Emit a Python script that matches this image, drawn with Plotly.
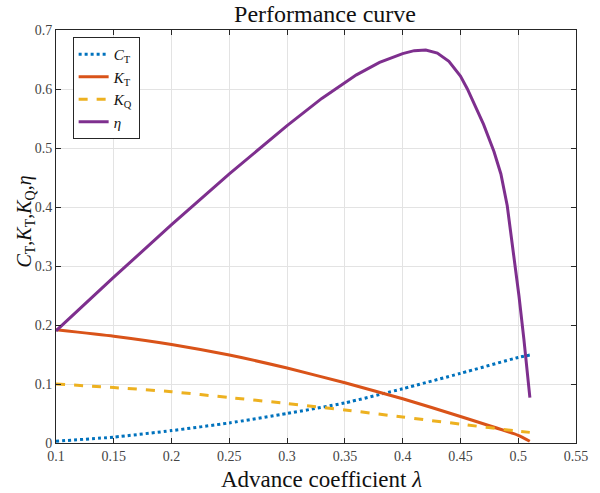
import plotly.graph_objects as go

# Data
lam = [0.1, 0.15, 0.2, 0.25, 0.3, 0.35, 0.4, 0.45, 0.5, 0.51]
CT = [0.003, 0.010, 0.021, 0.034, 0.050, 0.068, 0.092, 0.118, 0.145, 0.149]
KT = [0.192, 0.181, 0.167, 0.149, 0.127, 0.102, 0.075, 0.045, 0.013, 0.003]
KQ = [0.100, 0.094, 0.087, 0.077, 0.067, 0.056, 0.044, 0.032, 0.020, 0.018]

lam_eta = [0.1, 0.15, 0.2, 0.25, 0.3, 0.33, 0.36, 0.38, 0.4, 0.41, 0.42, 0.43, 0.44,
           0.45, 0.456, 0.462, 0.47, 0.479, 0.485, 0.4905, 0.4948, 0.5006, 0.5049, 0.5101]
eta = [0.19, 0.281, 0.370, 0.456, 0.538, 0.584, 0.624, 0.645, 0.660, 0.665, 0.666, 0.661, 0.647,
       0.622, 0.600, 0.575, 0.540, 0.494, 0.456, 0.402, 0.341, 0.250, 0.176, 0.077]

x_ticks = [0.1, 0.15, 0.2, 0.25, 0.3, 0.35, 0.4, 0.45, 0.5, 0.55]
x_labels = ["0.1", "0.15", "0.2", "0.25", "0.3", "0.35", "0.4", "0.45", "0.5", "0.55"]
y_ticks = [0, 0.1, 0.2, 0.3, 0.4, 0.5, 0.6, 0.7]
y_labels = ["0", "0.1", "0.2", "0.3", "0.4", "0.5", "0.6", "0.7"]

FONT = "Liberation Serif, DejaVu Serif, serif"

fig = go.Figure()
fig.add_trace(go.Scatter(x=lam, y=CT, mode="lines", name="<i>C</i><sub>T</sub>",
                         line=dict(color="#0072BD", width=3, dash="dot", shape="spline", smoothing=0.5)))
fig.add_trace(go.Scatter(x=lam, y=KT, mode="lines", name="<i>K</i><sub>T</sub>",
                         line=dict(color="#D95319", width=3, shape="spline", smoothing=0.5)))
fig.add_trace(go.Scatter(x=lam, y=KQ, mode="lines", name="<i>K</i><sub>Q</sub>",
                         line=dict(color="#EDB120", width=3, dash="dash", shape="spline", smoothing=0.5)))
fig.add_trace(go.Scatter(x=lam_eta, y=eta, mode="lines", name="<i>η</i>",
                         line=dict(color="#7E2F8E", width=3)))

axis_common = dict(
    showgrid=True, gridcolor="#e3e3e3", gridwidth=1,
    showline=True, linecolor="#262626", linewidth=1, mirror="ticks",
    ticks="inside", ticklen=5, tickcolor="#262626",
    tickfont=dict(family=FONT, size=14, color="#444444"),
    zeroline=False,
)

fig.update_layout(
    width=600, height=493,
    margin=dict(l=56, r=15, t=30, b=50),
    paper_bgcolor="white", plot_bgcolor="white",
    title=dict(text="Performance curve", x=(325 / 600), xanchor="center",
               xref="container", yref="container", y=0.99, yanchor="top",
               font=dict(family=FONT, size=24, color="#111111")),
    xaxis=dict(range=[0.1, 0.55], tickvals=x_ticks, ticktext=x_labels, **axis_common),
    yaxis=dict(range=[0, 0.7], tickvals=y_ticks, ticktext=y_labels, **axis_common),
    legend=dict(x=0.032, y=0.983, xanchor="left", yanchor="top",
                bgcolor="white", bordercolor="#262626", borderwidth=1,
                font=dict(family=FONT, size=15, color="#111111"),
                itemwidth=30, tracegroupgap=0),
    showlegend=True,
)

# Axis titles as annotations for precise placement
fig.add_annotation(text="Advance coefficient <i>λ</i>", xref="paper", yref="paper",
                   x=(326 - 56) / 529, y=(443 - 479) / 413, xanchor="center", yanchor="middle",
                   showarrow=False, font=dict(family=FONT, size=23, color="#111111"))
fig.add_annotation(text="<i>C</i><sub>T</sub>,<i>K</i><sub>T</sub>,<i>K</i><sub>Q</sub>,<i>η</i>",
                   xref="paper", yref="paper", textangle=-90,
                   x=-(56 - 24) / 529, y=(443 - 222) / 413, xanchor="center", yanchor="middle",
                   showarrow=False, font=dict(family=FONT, size=20, color="#111111"))

fig.write_html("out.html")
